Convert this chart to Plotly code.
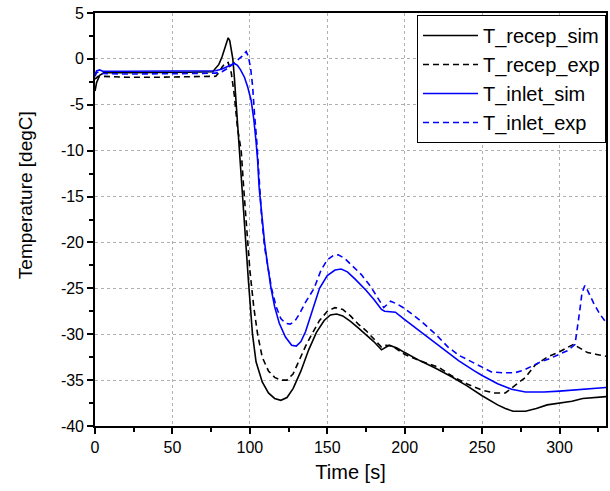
import plotly.graph_objects as go

recep_sim_t = [0,1,3,6,20,40,60,76,78,80,82,84,86,87,88,89,90,91,92,93.3,95,97,99,101.7,104,108,112,116,120,124,128,133,138,143,148,152,156,160,165,170,175,180,185,187,190,195,200,210,220,230,240,250,260,265,270,278,285,292,300,308,315,322,330]
recep_sim_T = [-3.5,-2.6,-1.8,-1.5,-1.5,-1.5,-1.45,-1.4,-1.0,-0.6,0.2,1.3,2.3,2.0,1.0,0.0,-2.0,-4.5,-7.5,-10,-14,-19,-24,-30,-33,-35.2,-36.4,-37.0,-37.2,-36.9,-35.9,-34.0,-31.7,-29.8,-28.5,-27.9,-27.8,-28.0,-28.6,-29.3,-30.0,-30.8,-31.7,-31.5,-31.2,-31.5,-32.0,-32.9,-33.7,-34.6,-35.6,-36.7,-37.7,-38.1,-38.4,-38.4,-38.1,-37.7,-37.5,-37.3,-37.0,-36.9,-36.8]

recep_exp_t = [0,2,5,20,40,60,78,80,82,84,86,88,90,92,94.4,96,98,100,102.5,105,108,112,116,120,124,128,132,136,140,145,150,155,160,165,170,175,180,185,188,192,200,210,222,230,240,250,258,265,268,273,278,284,292,300,305,309,312,318,324,330]
recep_exp_T = [-2.2,-1.9,-1.9,-2.0,-2.0,-1.95,-1.9,-1.5,-0.9,-0.5,-0.4,-1.5,-4.0,-7.5,-10,-14,-19,-23,-27,-30,-32.5,-34.0,-34.7,-35.0,-35.0,-34.3,-32.8,-31.3,-30.0,-28.5,-27.5,-27.1,-27.3,-28.0,-28.9,-29.6,-30.5,-31.4,-31.2,-31.3,-32.2,-32.9,-33.6,-34.5,-35.4,-36.1,-36.4,-36.4,-36.0,-35.4,-34.7,-33.4,-32.5,-31.9,-31.5,-31.1,-31.4,-32.0,-32.2,-32.4]

inlet_sim_t = [0,1,3,5,20,40,60,78,82,86,88,90,92,94,96.5,98.5,100.8,102.5,104,105,106,108,109.5,111.5,113.7,116,119,123,127,130,133,136,140,145,150,155,159,163,168,175,180,185,187,194,200,210,220,226,235,245,250,260,269,278,290,300,315,330]
inlet_sim_T = [-1.7,-1.3,-1.2,-1.35,-1.35,-1.35,-1.35,-1.3,-1.1,-0.8,-0.6,-0.5,-0.7,-1.2,-2.0,-3.0,-4.5,-6.5,-9,-11,-14,-17.5,-20,-22.5,-25,-27,-28.8,-30.3,-31.2,-31.3,-30.8,-29.7,-27.5,-25,-23.6,-23.0,-22.9,-23.2,-24.0,-25.2,-26.2,-27.3,-27.5,-27.6,-28.4,-29.7,-31.0,-31.8,-32.9,-34.0,-34.5,-35.4,-36.0,-36.3,-36.3,-36.2,-36.0,-35.8]

inlet_exp_t = [0,1,3,5,20,40,60,78,82,86,89,92,95,97.6,99,100.5,101.8,103,104.5,106,107.5,109.5,112,114,117,120,123,126,129,132,136,141.5,146,150,154,157,161,166,172,178,183,186.5,190.9,195,200,210,220,228,235,243,250,256,263,271,277,282,288,293,300,305,310,311.5,313,314.5,316.3,318,322,326,330]
inlet_exp_T = [-1.9,-1.5,-1.4,-1.6,-1.65,-1.65,-1.6,-1.55,-1.4,-1.0,-0.6,-0.2,0.3,0.8,0.3,-1.0,-3,-6,-9,-13,-17,-20.5,-23,-25,-27,-28.3,-28.8,-28.9,-28.6,-27.8,-26.5,-25,-23.0,-21.9,-21.4,-21.35,-21.7,-22.5,-23.5,-24.8,-26.2,-27.1,-26.4,-26.7,-27.2,-28.5,-30.0,-31.4,-32.3,-33.0,-33.6,-34.1,-34.2,-34.2,-33.9,-33.45,-33.0,-32.7,-32.2,-31.8,-31.1,-29.5,-27.5,-25.5,-24.7,-25.2,-26.6,-27.8,-28.7]

x_ticks = [0, 50, 100, 150, 200, 250, 300]
y_ticks = [5, 0, -5, -10, -15, -20, -25, -30, -35, -40]
y_tick_text = [str(v) for v in y_ticks]

FONT = "Liberation Sans, Arial, sans-serif"

fig = go.Figure()
fig.add_trace(go.Scatter(x=recep_sim_t, y=recep_sim_T, mode="lines", name="T_recep_sim",
                         line=dict(color="black", width=1.6)))
fig.add_trace(go.Scatter(x=recep_exp_t, y=recep_exp_T, mode="lines", name="T_recep_exp",
                         line=dict(color="black", width=1.6, dash="6px,4px")))
fig.add_trace(go.Scatter(x=inlet_sim_t, y=inlet_sim_T, mode="lines", name="T_inlet_sim",
                         line=dict(color="#0000FF", width=1.6)))
fig.add_trace(go.Scatter(x=inlet_exp_t, y=inlet_exp_T, mode="lines", name="T_inlet_exp",
                         line=dict(color="#0000FF", width=1.6, dash="6px,4px")))

axis_common = dict(
    showline=True, linecolor="black", linewidth=1.6, mirror=True,
    ticks="outside", ticklen=6, tickwidth=1.5, tickcolor="black",
    showgrid=True, gridcolor="#b0b0b0", gridwidth=1, griddash="3px,3px",
    zeroline=False, automargin=False,
    tickfont=dict(family=FONT, size=16, color="black"),
)

fig.update_layout(
    width=610, height=491,
    margin=dict(l=95, r=4, t=13, b=65),
    plot_bgcolor="white", paper_bgcolor="white",
    font=dict(family=FONT, color="black"),
    xaxis=dict(range=[0, 330], tickmode="array", tickvals=x_ticks,
               title=dict(text="Time [s]", font=dict(size=20), standoff=10),
               minor=dict(ticks="outside", ticklen=4, tickwidth=1.5, tickcolor="black", dtick=25, tick0=0, showgrid=False),
               **axis_common),
    yaxis=dict(range=[-40, 5], tickmode="array", tickvals=y_ticks, ticktext=y_tick_text,
               minor=dict(ticks="outside", ticklen=4, tickwidth=1.5, tickcolor="black", dtick=2.5, tick0=0, showgrid=False),
               **axis_common),
    legend=dict(x=1, xanchor="right", y=0.995, yanchor="top",
                bgcolor="white", bordercolor="black", borderwidth=1,
                font=dict(family=FONT, size=20, color="black"),
                tracegroupgap=0, itemwidth=55),
    showlegend=True,
    annotations=[dict(text="Temperature [degC]", textangle=-90, xref="paper", yref="paper",
                      x=-0.137, y=0.559, xanchor="center", yanchor="middle", showarrow=False,
                      font=dict(family=FONT, size=19, color="black"))],
)

fig.write_html("out.html", config={"displayModeBar": False},
               post_script="document.body.style.margin='0';document.body.style.overflow='hidden';")
